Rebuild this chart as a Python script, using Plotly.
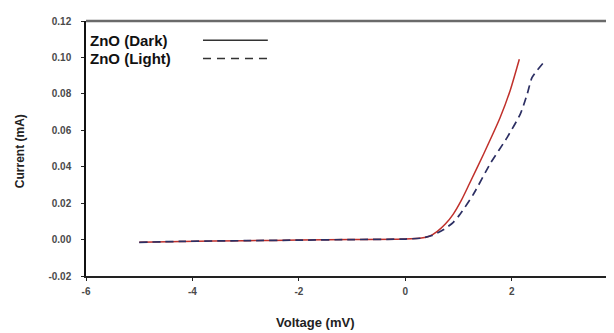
import plotly.graph_objects as go

# Data
dark_v = [-5.0, -4.2, -3.0, -2.0, -1.0, 0.0, 0.3, 0.45, 0.6, 0.75, 0.9, 1.05, 1.2, 1.47, 1.78, 1.97, 2.14]
dark_i = [-0.0015, -0.0010, -0.0006, -0.0003, 0.0000, 0.0003, 0.0008, 0.0018, 0.0045, 0.0085, 0.0140, 0.0215, 0.0305, 0.047, 0.067, 0.082, 0.099]

light_v = [-5.0, -4.2, -3.0, -2.0, -1.0, 0.0, 0.3, 0.5, 0.72, 0.9, 1.03, 1.28, 1.60, 1.91, 2.16, 2.29, 2.38, 2.59]
light_i = [-0.0015, -0.0010, -0.0006, -0.0003, 0.0000, 0.0003, 0.0008, 0.0022, 0.0055, 0.0095, 0.014, 0.025, 0.042, 0.056, 0.069, 0.080, 0.089, 0.097]

x_ticks = [-6, -4, -2, 0, 2]
y_ticks = [-0.02, 0.00, 0.02, 0.04, 0.06, 0.08, 0.10, 0.12]
legend_labels = ["ZnO (Dark)", "ZnO (Light)"]

dark_color = "#c0302b"
light_color = "#2c2f63"

fig = go.Figure()
fig.add_trace(go.Scatter(x=dark_v, y=dark_i, mode="lines", name=legend_labels[0],
                         line=dict(color=dark_color, width=1.5, shape="spline", smoothing=0.6),
                         showlegend=False))
fig.add_trace(go.Scatter(x=light_v, y=light_i, mode="lines", name=legend_labels[1],
                         line=dict(color=light_color, width=1.7, dash="8px,5px", shape="spline", smoothing=0.6),
                         showlegend=False))

tick_font = dict(family="Arial", size=10, color="#4a4a4a", weight="bold")

fig.update_layout(
    width=606, height=325,
    margin=dict(l=78, r=1, t=13, b=57),
    paper_bgcolor="white", plot_bgcolor="white",
    xaxis=dict(range=[-6, 3.9], tickvals=x_ticks, ticktext=[str(t) for t in x_ticks],
               showgrid=False, zeroline=False, showline=True, linecolor="#222222", linewidth=1.5,
               ticks="outside", ticklen=3, tickcolor="#222222", tickfont=tick_font,
               ticklabelstandoff=2, automargin=False),
    yaxis=dict(range=[-0.02, 0.12], tickvals=y_ticks, ticktext=[f"{t:.2f}" for t in y_ticks],
               showgrid=False, zeroline=False, showline=True, linecolor="#111111", linewidth=1.5,
               ticks="outside", ticklen=3, tickcolor="#222222", tickfont=tick_font,
               ticklabelstandoff=8, automargin=False),
    showlegend=False,
)

# Axis titles (positions relative to the plot area)
fig.add_annotation(xref="paper", yref="paper", x=0.436, y=-0.184, xanchor="center", yanchor="middle",
                   text="Voltage (mV)", showarrow=False,
                   font=dict(family="Arial", size=13, color="#222222", weight="bold"))
fig.add_annotation(xref="paper", yref="paper", x=-0.125, y=0.49, xanchor="center", yanchor="middle",
                   text="Current (mA)", showarrow=False, textangle=-90,
                   font=dict(family="Arial", size=12, color="#222222", weight="bold"))

# Top border
fig.add_shape(type="line", xref="paper", yref="paper", x0=0, x1=1, y0=1, y1=1,
              line=dict(color="#6a6a6a", width=2.5))

# Manual legend (text followed by line sample)
legend_y = [0.925, 0.853]
styles = [dict(color="#333333", width=1.5), dict(color="#333333", width=1.5, dash="8px,6px")]
for lab, yy, st in zip(legend_labels, legend_y, styles):
    fig.add_annotation(xref="paper", yref="paper", x=0.003, y=yy, xanchor="left", yanchor="middle",
                       text=lab, showarrow=False,
                       font=dict(family="Arial", size=15, color="#111111", weight="bold"))
    fig.add_shape(type="line", xref="paper", yref="paper", x0=0.222, x1=0.345, y0=yy, y1=yy, line=st)

fig.write_html("out.html")
